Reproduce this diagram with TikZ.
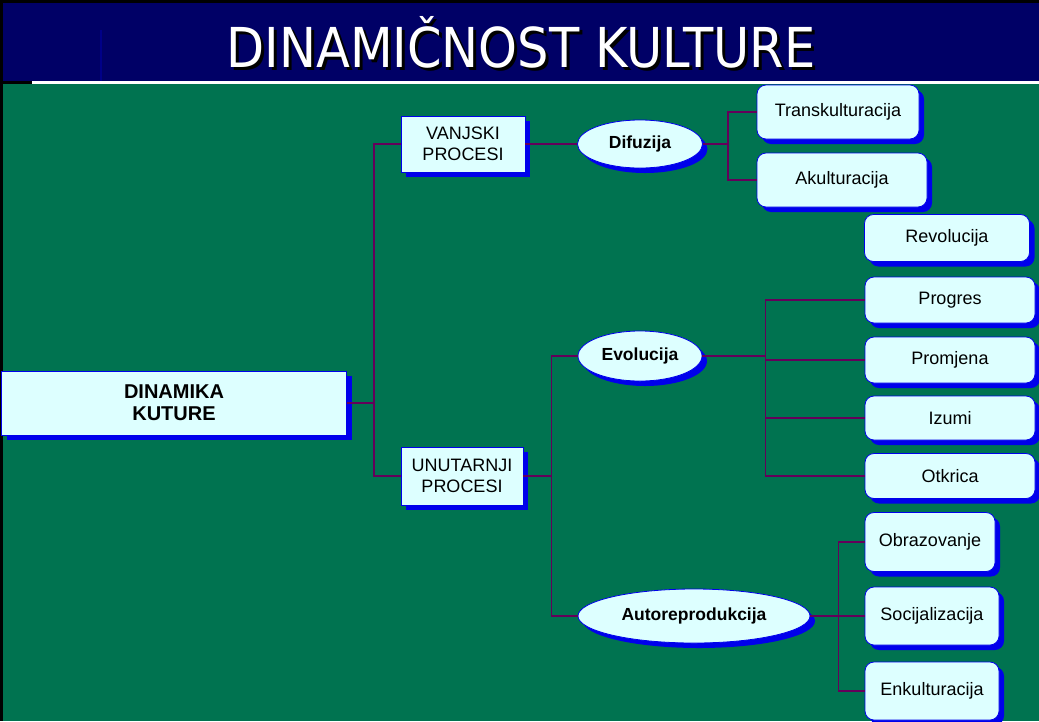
\documentclass[tikz,border=0pt]{standalone}
\usepackage{fontspec}
\setmainfont{Liberation Sans}
\newfontfamily\titlefont{DejaVu Sans}
\usetikzlibrary{shapes.geometric,shadows}

\definecolor{slidegreen}{RGB}{0,115,80}
\definecolor{slidenavy}{RGB}{0,0,102}
\definecolor{boxfill}{RGB}{221,255,255}
\definecolor{boxblue}{RGB}{0,0,235}
\definecolor{linkpurple}{RGB}{100,0,90}

\tikzset{
	boxbase/.style={draw=boxblue, line width=0.8pt, fill=boxfill, inner sep=0pt, align=center,
		font=\fontsize{18}{21}\selectfont,
		drop shadow={shadow xshift=5pt, shadow yshift=-5pt, fill=boxblue, opacity=1}},
	procbox/.style={boxbase, rectangle},
	ovalbox/.style={boxbase, ellipse, font=\fontsize{17.5}{20}\selectfont\bfseries},
	leafbox/.style={boxbase, rectangle, rounded corners=9pt},
	link/.style={draw=linkpurple, line width=1.2pt}
}

\begin{document}
\begin{tikzpicture}[x=1pt, y=-1pt]
			\useasboundingbox (0, 0) rectangle (1039, 721);
			\fill[black] (0, 0) rectangle (1039, 721);
			\fill[slidegreen] (3, 84) rectangle (1039, 721);
			\fill[slidenavy] (3, 3) rectangle (1039, 81);
			\draw[color=blue!22!slidenavy, line width=1.5pt] (101, 30) -- (101, 81);
			\fill[white] (32, 80.5) rectangle (1039, 83.5);
			\node[text=black, font=\titlefont\fontsize{55}{60}\selectfont] at (524, 45){\scalebox{0.9}[1]{DINAMIČNOST KULTURE}};
			\node[text=white, font=\titlefont\fontsize{55}{60}\selectfont](title) at (521, 42){\scalebox{0.9}[1]{DINAMIČNOST KULTURE}};
			\node[procbox, minimum width=345, minimum height=64, font=\fontsize{20}{22}\selectfont\bfseries](root) at (174, 403){DINAMIKA\\KUTURE};
			\node[procbox, minimum width=124, minimum height=56](vanjski) at (463, 144){VANJSKI\\PROCESI};
			\node[procbox, minimum width=122, minimum height=58](unutarnji) at (462, 476){UNUTARNJI\\PROCESI};
			\node[ovalbox, minimum width=125, minimum height=48](difuzija) at (640, 144){Difuzija};
			\node[ovalbox, minimum width=124, minimum height=50](evolucija) at (640, 356){Evolucija};
			\node[ovalbox, minimum width=232, minimum height=54](autorep) at (694, 616){Autoreprodukcija};
			\node[leafbox, minimum width=162, minimum height=54](transk) at (838, 112){Transkulturacija};
			\node[leafbox, minimum width=170, minimum height=54](akult) at (842, 180){Akulturacija};
			\node[leafbox, minimum width=165, minimum height=47](revol) at (947, 238){Revolucija};
			\node[leafbox, minimum width=170, minimum height=46](progres) at (950, 300){Progres};
			\node[leafbox, minimum width=170, minimum height=46](promjena) at (950, 360){Promjena};
			\node[leafbox, minimum width=170, minimum height=44](izumi) at (950, 418){Izumi};
			\node[leafbox, minimum width=170, minimum height=45](otkrica) at (950, 476){Otkrica};
			\node[leafbox, minimum width=130, minimum height=59](obraz) at (930, 542){Obrazovanje};
			\node[leafbox, minimum width=134, minimum height=58](socij) at (932, 616){Socijalizacija};
			\node[leafbox, minimum width=134, minimum height=58](enkult) at (932, 691){Enkulturacija};
			\draw[link] (root.east) -- ++(27, 0) coordinate (rootbus);
			\draw[link] (vanjski.west) -| (rootbus) |- (unutarnji.west);
			\draw[link] (vanjski.east) -- (difuzija.west);
			\draw[link] (difuzija.east) -- ++(25, 0) coordinate (difbus);
			\draw[link] (transk.west) -| (difbus) |- (akult.west);
			\draw[link] (unutarnji.east) -- ++(28, 0) coordinate (unbus);
			\draw[link] (evolucija.west) -| (unbus) |- (autorep.west);
			\draw[link] (evolucija.east) -- ++(63, 0) coordinate (evobus);
			\draw[link] (progres.west) -| (evobus) |- (otkrica.west);
			\foreach \leaf in {promjena, izumi}
				\draw[link] (evobus |- \leaf.west) -- (\leaf.west);
			\draw[link] (autorep.east) -- ++(28, 0) coordinate (autobus);
			\draw[link] (obraz.west) -| (autobus) |- (enkult.west);
			\draw[link] (autobus) -- (socij.west);
		\end{tikzpicture}
\end{document}
